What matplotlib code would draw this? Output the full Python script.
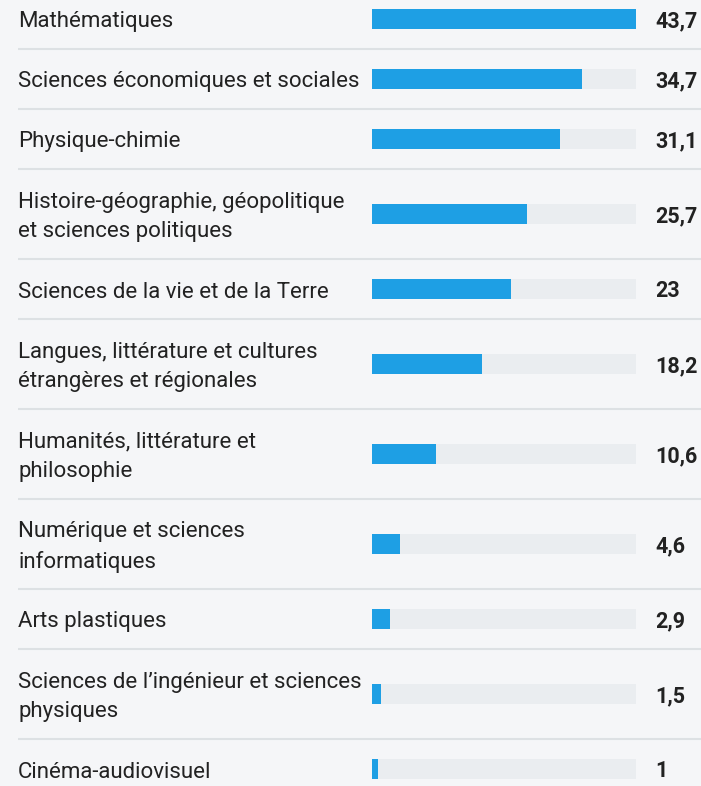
import matplotlib
matplotlib.use("Agg")
import matplotlib.pyplot as plt
import matplotlib.transforms as mtransforms

# Data
subjects = [
    "Mathématiques",
    "Sciences économiques et sociales",
    "Physique-chimie",
    "Histoire-géographie, géopolitique\net sciences politiques",
    "Sciences de la vie et de la Terre",
    "Langues, littérature et cultures\nétrangères et régionales",
    "Humanités, littérature et\nphilosophie",
    "Numérique et sciences\ninformatiques",
    "Arts plastiques",
    "Sciences de l\u2019ingénieur et sciences\nphysiques",
    "Cinéma-audiovisuel",
]
values = [43.7, 34.7, 31.1, 25.7, 23, 18.2, 10.6, 4.6, 2.9, 1.5, 1]
value_labels = ["43,7", "34,7", "31,1", "25,7", "23", "18,2", "10,6", "4,6", "2,9", "1,5", "1"]

W, H = 701, 786
bg = "#f5f6f8"
blue = "#1e9fe4"
track = "#eaedf0"
sep = "#dde1e4"
txt = "#222222"

plt.rcParams["font.family"] = ["Roboto", "DejaVu Sans"]

fig = plt.figure(figsize=(W / 100, H / 100), dpi=100)
fig.patch.set_facecolor(bg)

# row layout in pixels (single line rows 60, double line rows 90)
heights = [60 if "\n" not in s else 90 for s in subjects]
top = -11
centers = []
bounds = []
for h in heights:
    centers.append(top + h / 2)
    top += h
    bounds.append(top)

# background axes for separators, pixel coordinates
bg_ax = fig.add_axes([0, 0, 1, 1])
bg_ax.set_xlim(0, W)
bg_ax.set_ylim(H, 0)
bg_ax.axis("off")
bg_ax.hlines(bounds[:-1], 18, W, color=sep, linewidth=1.5)

# bar axes
ax = fig.add_axes([372 / W, 0, 264 / W, 1])
ax.set_xlim(0, max(values))
ax.set_ylim(H, 0)
ax.axis("off")
ax.barh(centers, [max(values)] * len(values), height=20, color=track)
ax.barh(centers, values, height=20, color=blue)

trans = mtransforms.blended_transform_factory(fig.transFigure, ax.transData)
for c, s, v in zip(centers, subjects, value_labels):
    fig.text(18 / W, c + 3, s, transform=trans, va="center", ha="left",
             fontsize=16, color=txt, linespacing=1.55)
    fig.text(655 / W, c + 2, v, transform=trans, va="center", ha="left",
             fontsize=15.5, fontweight="bold", color=txt)

fig.savefig("out.png", dpi=100, facecolor=bg)
